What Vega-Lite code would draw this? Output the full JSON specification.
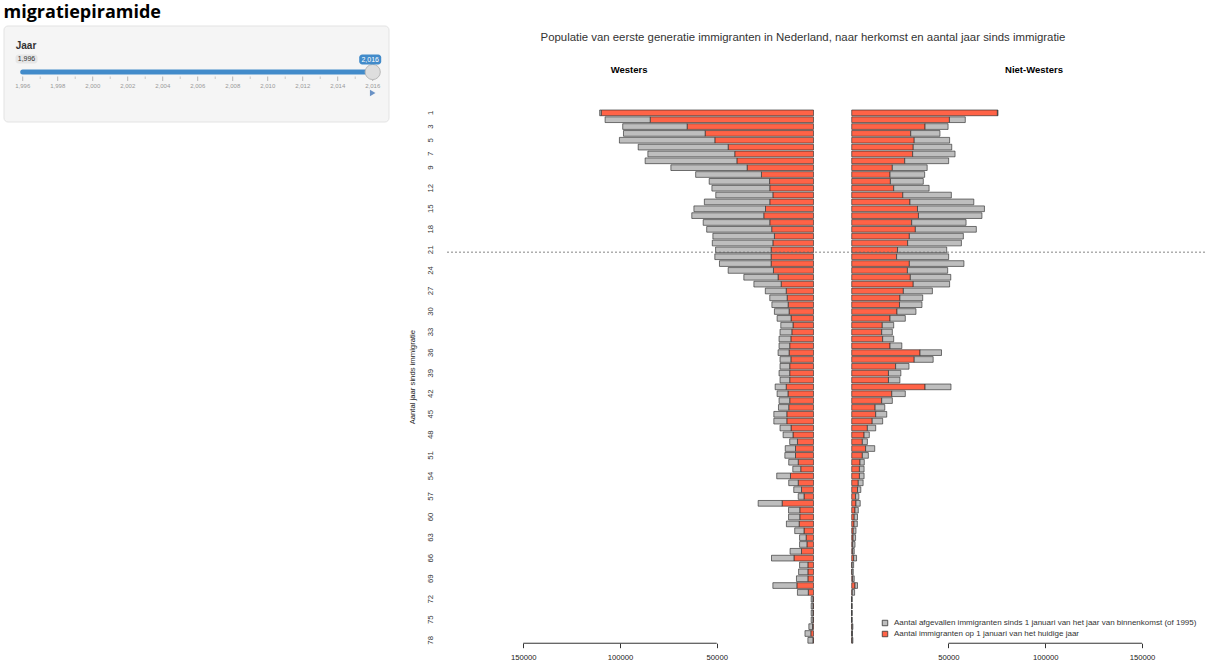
{
  "$schema": "https://vega.github.io/schema/vega-lite/v6.json",
  "background": "white",
  "padding": {"left": 3, "top": 4, "right": 0, "bottom": 0},
  "spacing": 17,
  "resolve": {"scale": {"color": "independent"}, "legend": {"color": "independent"}},
  "config": {
    "font": "Liberation Sans",
    "view": {"stroke": null},
    "axis": {"labelFont": "Liberation Sans", "titleFont": "Liberation Sans"},
    "legend": {"labelFont": "Liberation Sans"}
  },
  "datasets": {
    "pyramide": [
      {"herkomst":"Westers","jaar":1,"huidig":109700,"weg":800},
      {"herkomst":"Westers","jaar":2,"huidig":84400,"weg":23300},
      {"herkomst":"Westers","jaar":3,"huidig":65300,"weg":33300},
      {"herkomst":"Westers","jaar":4,"huidig":56000,"weg":42200},
      {"herkomst":"Westers","jaar":5,"huidig":51000,"weg":49300},
      {"herkomst":"Westers","jaar":6,"huidig":44100,"weg":46500},
      {"herkomst":"Westers","jaar":7,"huidig":40700,"weg":44900},
      {"herkomst":"Westers","jaar":8,"huidig":39600,"weg":47400},
      {"herkomst":"Westers","jaar":9,"huidig":34300,"weg":39400},
      {"herkomst":"Westers","jaar":10,"huidig":26900,"weg":34000},
      {"herkomst":"Westers","jaar":11,"huidig":22700,"weg":31200},
      {"herkomst":"Westers","jaar":12,"huidig":22600,"weg":29900},
      {"herkomst":"Westers","jaar":13,"huidig":21000,"weg":29500},
      {"herkomst":"Westers","jaar":14,"huidig":22600,"weg":33800},
      {"herkomst":"Westers","jaar":15,"huidig":24800,"weg":37000},
      {"herkomst":"Westers","jaar":16,"huidig":25700,"weg":37200},
      {"herkomst":"Westers","jaar":17,"huidig":22600,"weg":34400},
      {"herkomst":"Westers","jaar":18,"huidig":21600,"weg":33600},
      {"herkomst":"Westers","jaar":19,"huidig":20200,"weg":31800},
      {"herkomst":"Westers","jaar":20,"huidig":21000,"weg":31300},
      {"herkomst":"Westers","jaar":21,"huidig":21900,"weg":28700},
      {"herkomst":"Westers","jaar":22,"huidig":21900,"weg":29100},
      {"herkomst":"Westers","jaar":23,"huidig":21900,"weg":26700},
      {"herkomst":"Westers","jaar":24,"huidig":20700,"weg":23400},
      {"herkomst":"Westers","jaar":25,"huidig":18300,"weg":17700},
      {"herkomst":"Westers","jaar":26,"huidig":16700,"weg":14100},
      {"herkomst":"Westers","jaar":27,"huidig":14100,"weg":10800},
      {"herkomst":"Westers","jaar":28,"huidig":13600,"weg":9000},
      {"herkomst":"Westers","jaar":29,"huidig":13100,"weg":8400},
      {"herkomst":"Westers","jaar":30,"huidig":12600,"weg":7600},
      {"herkomst":"Westers","jaar":31,"huidig":11600,"weg":7200},
      {"herkomst":"Westers","jaar":32,"huidig":10600,"weg":6300},
      {"herkomst":"Westers","jaar":33,"huidig":11200,"weg":6100},
      {"herkomst":"Westers","jaar":34,"huidig":11700,"weg":6100},
      {"herkomst":"Westers","jaar":35,"huidig":12300,"weg":5500},
      {"herkomst":"Westers","jaar":36,"huidig":12600,"weg":5700},
      {"herkomst":"Westers","jaar":37,"huidig":11700,"weg":5600},
      {"herkomst":"Westers","jaar":38,"huidig":12300,"weg":5000},
      {"herkomst":"Westers","jaar":39,"huidig":12300,"weg":5500},
      {"herkomst":"Westers","jaar":40,"huidig":12300,"weg":5000},
      {"herkomst":"Westers","jaar":41,"huidig":14100,"weg":5700},
      {"herkomst":"Westers","jaar":42,"huidig":13200,"weg":5600},
      {"herkomst":"Westers","jaar":43,"huidig":12300,"weg":5500},
      {"herkomst":"Westers","jaar":44,"huidig":12800,"weg":5300},
      {"herkomst":"Westers","jaar":45,"huidig":13800,"weg":6700},
      {"herkomst":"Westers","jaar":46,"huidig":13800,"weg":6700},
      {"herkomst":"Westers","jaar":47,"huidig":11600,"weg":5700},
      {"herkomst":"Westers","jaar":48,"huidig":10600,"weg":5100},
      {"herkomst":"Westers","jaar":49,"huidig":8300,"weg":4000},
      {"herkomst":"Westers","jaar":50,"huidig":9300,"weg":5300},
      {"herkomst":"Westers","jaar":51,"huidig":9300,"weg":5500},
      {"herkomst":"Westers","jaar":52,"huidig":7900,"weg":4900},
      {"herkomst":"Westers","jaar":53,"huidig":6600,"weg":4100},
      {"herkomst":"Westers","jaar":54,"huidig":11900,"weg":7100},
      {"herkomst":"Westers","jaar":55,"huidig":7900,"weg":4900},
      {"herkomst":"Westers","jaar":56,"huidig":6200,"weg":4000},
      {"herkomst":"Westers","jaar":57,"huidig":4900,"weg":3000},
      {"herkomst":"Westers","jaar":58,"huidig":16200,"weg":12400},
      {"herkomst":"Westers","jaar":59,"huidig":7100,"weg":5800},
      {"herkomst":"Westers","jaar":60,"huidig":7100,"weg":5800},
      {"herkomst":"Westers","jaar":61,"huidig":7400,"weg":6600},
      {"herkomst":"Westers","jaar":62,"huidig":4900,"weg":4800},
      {"herkomst":"Westers","jaar":63,"huidig":3800,"weg":3400},
      {"herkomst":"Westers","jaar":64,"huidig":3400,"weg":3800},
      {"herkomst":"Westers","jaar":65,"huidig":6200,"weg":5900},
      {"herkomst":"Westers","jaar":66,"huidig":10100,"weg":11600},
      {"herkomst":"Westers","jaar":67,"huidig":2900,"weg":4300},
      {"herkomst":"Westers","jaar":68,"huidig":2900,"weg":4800},
      {"herkomst":"Westers","jaar":69,"huidig":2900,"weg":5900},
      {"herkomst":"Westers","jaar":70,"huidig":8600,"weg":12400},
      {"herkomst":"Westers","jaar":71,"huidig":2700,"weg":5600},
      {"herkomst":"Westers","jaar":72,"huidig":300,"weg":900},
      {"herkomst":"Westers","jaar":73,"huidig":300,"weg":900},
      {"herkomst":"Westers","jaar":74,"huidig":300,"weg":900},
      {"herkomst":"Westers","jaar":75,"huidig":300,"weg":900},
      {"herkomst":"Westers","jaar":76,"huidig":500,"weg":1900},
      {"herkomst":"Westers","jaar":77,"huidig":1400,"weg":3000},
      {"herkomst":"Westers","jaar":78,"huidig":300,"weg":2600},
      {"herkomst":"Niet-Westers","jaar":1,"huidig":75300,"weg":300},
      {"herkomst":"Niet-Westers","jaar":2,"huidig":50500,"weg":8200},
      {"herkomst":"Niet-Westers","jaar":3,"huidig":37900,"weg":11900},
      {"herkomst":"Niet-Westers","jaar":4,"huidig":30500,"weg":15100},
      {"herkomst":"Niet-Westers","jaar":5,"huidig":32300,"weg":18300},
      {"herkomst":"Niet-Westers","jaar":6,"huidig":31800,"weg":19900},
      {"herkomst":"Niet-Westers","jaar":7,"huidig":31500,"weg":21900},
      {"herkomst":"Niet-Westers","jaar":8,"huidig":27400,"weg":22700},
      {"herkomst":"Niet-Westers","jaar":9,"huidig":21000,"weg":18000},
      {"herkomst":"Niet-Westers","jaar":10,"huidig":19800,"weg":17900},
      {"herkomst":"Niet-Westers","jaar":11,"huidig":20000,"weg":17000},
      {"herkomst":"Niet-Westers","jaar":12,"huidig":21700,"weg":18300},
      {"herkomst":"Niet-Westers","jaar":13,"huidig":26400,"weg":25100},
      {"herkomst":"Niet-Westers","jaar":14,"huidig":30100,"weg":33000},
      {"herkomst":"Niet-Westers","jaar":15,"huidig":34000,"weg":34600},
      {"herkomst":"Niet-Westers","jaar":16,"huidig":34500,"weg":32800},
      {"herkomst":"Niet-Westers","jaar":17,"huidig":31000,"weg":28100},
      {"herkomst":"Niet-Westers","jaar":18,"huidig":32900,"weg":31500},
      {"herkomst":"Niet-Westers","jaar":19,"huidig":29800,"weg":27900},
      {"herkomst":"Niet-Westers","jaar":20,"huidig":28900,"weg":27800},
      {"herkomst":"Niet-Westers","jaar":21,"huidig":23700,"weg":25400},
      {"herkomst":"Niet-Westers","jaar":22,"huidig":23200,"weg":26900},
      {"herkomst":"Niet-Westers","jaar":23,"huidig":29800,"weg":28200},
      {"herkomst":"Niet-Westers","jaar":24,"huidig":28800,"weg":20800},
      {"herkomst":"Niet-Westers","jaar":25,"huidig":30300,"weg":20900},
      {"herkomst":"Niet-Westers","jaar":26,"huidig":31800,"weg":18800},
      {"herkomst":"Niet-Westers","jaar":27,"huidig":26700,"weg":15000},
      {"herkomst":"Niet-Westers","jaar":28,"huidig":24900,"weg":11800},
      {"herkomst":"Niet-Westers","jaar":29,"huidig":24700,"weg":11600},
      {"herkomst":"Niet-Westers","jaar":30,"huidig":23400,"weg":9800},
      {"herkomst":"Niet-Westers","jaar":31,"huidig":19800,"weg":7900},
      {"herkomst":"Niet-Westers","jaar":32,"huidig":15800,"weg":5900},
      {"herkomst":"Niet-Westers","jaar":33,"huidig":15500,"weg":5500},
      {"herkomst":"Niet-Westers","jaar":34,"huidig":16000,"weg":5700},
      {"herkomst":"Niet-Westers","jaar":35,"huidig":19800,"weg":6100},
      {"herkomst":"Niet-Westers","jaar":36,"huidig":35300,"weg":11100},
      {"herkomst":"Niet-Westers","jaar":37,"huidig":32300,"weg":9800},
      {"herkomst":"Niet-Westers","jaar":38,"huidig":22700,"weg":6900},
      {"herkomst":"Niet-Westers","jaar":39,"huidig":19000,"weg":6400},
      {"herkomst":"Niet-Westers","jaar":40,"huidig":19000,"weg":5900},
      {"herkomst":"Niet-Westers","jaar":41,"huidig":37900,"weg":13400},
      {"herkomst":"Niet-Westers","jaar":42,"huidig":20700,"weg":7000},
      {"herkomst":"Niet-Westers","jaar":43,"huidig":15500,"weg":5500},
      {"herkomst":"Niet-Westers","jaar":44,"huidig":12100,"weg":5000},
      {"herkomst":"Niet-Westers","jaar":45,"huidig":12400,"weg":5700},
      {"herkomst":"Niet-Westers","jaar":46,"huidig":10600,"weg":5400},
      {"herkomst":"Niet-Westers","jaar":47,"huidig":8100,"weg":4300},
      {"herkomst":"Niet-Westers","jaar":48,"huidig":6400,"weg":2700},
      {"herkomst":"Niet-Westers","jaar":49,"huidig":5500,"weg":2600},
      {"herkomst":"Niet-Westers","jaar":50,"huidig":7200,"weg":4700},
      {"herkomst":"Niet-Westers","jaar":51,"huidig":5500,"weg":3100},
      {"herkomst":"Niet-Westers","jaar":52,"huidig":4300,"weg":2200},
      {"herkomst":"Niet-Westers","jaar":53,"huidig":4000,"weg":2400},
      {"herkomst":"Niet-Westers","jaar":54,"huidig":4000,"weg":2400},
      {"herkomst":"Niet-Westers","jaar":55,"huidig":3400,"weg":2500},
      {"herkomst":"Niet-Westers","jaar":56,"huidig":3000,"weg":1700},
      {"herkomst":"Niet-Westers","jaar":57,"huidig":2000,"weg":1700},
      {"herkomst":"Niet-Westers","jaar":58,"huidig":2200,"weg":2200},
      {"herkomst":"Niet-Westers","jaar":59,"huidig":1700,"weg":1700},
      {"herkomst":"Niet-Westers","jaar":60,"huidig":1300,"weg":1700},
      {"herkomst":"Niet-Westers","jaar":61,"huidig":1200,"weg":1700},
      {"herkomst":"Niet-Westers","jaar":62,"huidig":800,"weg":1400},
      {"herkomst":"Niet-Westers","jaar":63,"huidig":700,"weg":1300},
      {"herkomst":"Niet-Westers","jaar":64,"huidig":500,"weg":1200},
      {"herkomst":"Niet-Westers","jaar":65,"huidig":500,"weg":800},
      {"herkomst":"Niet-Westers","jaar":66,"huidig":1000,"weg":1500},
      {"herkomst":"Niet-Westers","jaar":67,"huidig":200,"weg":800},
      {"herkomst":"Niet-Westers","jaar":68,"huidig":200,"weg":600},
      {"herkomst":"Niet-Westers","jaar":69,"huidig":500,"weg":800},
      {"herkomst":"Niet-Westers","jaar":70,"huidig":1700,"weg":1300},
      {"herkomst":"Niet-Westers","jaar":71,"huidig":300,"weg":1200},
      {"herkomst":"Niet-Westers","jaar":72,"huidig":50,"weg":100},
      {"herkomst":"Niet-Westers","jaar":73,"huidig":50,"weg":100},
      {"herkomst":"Niet-Westers","jaar":74,"huidig":50,"weg":100},
      {"herkomst":"Niet-Westers","jaar":75,"huidig":50,"weg":100},
      {"herkomst":"Niet-Westers","jaar":76,"huidig":200,"weg":400},
      {"herkomst":"Niet-Westers","jaar":77,"huidig":100,"weg":300},
      {"herkomst":"Niet-Westers","jaar":78,"huidig":200,"weg":400}
    ]
  },
  "hconcat": [
    {
      "width": 385,
      "height": 12,
      "title": {"text": "migratiepiramide", "anchor": "start", "font": "Open Sans", "fontSize": 18, "fontWeight": "bold", "color": "#000000", "offset": 3.5},
      "data": {"values": [{"van": 1996, "tot": 2016, "jaar": 2016}]},
      "layer": [
        {
          "mark": {"type": "rect", "fill": "#f5f5f5", "stroke": "#e3e3e3", "strokeWidth": 1, "cornerRadius": 4},
          "encoding": {
            "x": {"datum": 1994.931, "type": "quantitative", "scale": {"domain": [1994.931, 2016.931], "nice": false, "zero": false}, "axis": null},
            "x2": {"datum": 2016.931},
            "y": {"datum": 0, "type": "quantitative", "scale": {"domain": [84, 96], "reverse": true, "nice": false, "zero": false}, "axis": null},
            "y2": {"datum": 96}
          }
        },
        {
          "mark": {"type": "rule", "color": "#428bca", "strokeWidth": 5, "strokeCap": "round"},
          "encoding": {
            "x": {"field": "van", "type": "quantitative"},
            "x2": {"field": "jaar"},
            "y": {"datum": 46, "type": "quantitative"}
          }
        },
        {
          "data": {"values": [{"jaar": 1996}, {"jaar": 1998}, {"jaar": 2000}, {"jaar": 2002}, {"jaar": 2004}, {"jaar": 2006}, {"jaar": 2008}, {"jaar": 2010}, {"jaar": 2012}, {"jaar": 2014}, {"jaar": 2016}]},
          "mark": {"type": "rule", "color": "#b5b5b5", "strokeWidth": 1},
          "encoding": {
            "x": {"field": "jaar", "type": "quantitative"},
            "y": {"datum": 50.5, "type": "quantitative"},
            "y2": {"datum": 55}
          }
        },
        {
          "data": {"values": [{"jaar": 1997}, {"jaar": 1999}, {"jaar": 2001}, {"jaar": 2003}, {"jaar": 2005}, {"jaar": 2007}, {"jaar": 2009}, {"jaar": 2011}, {"jaar": 2013}, {"jaar": 2015}]},
          "mark": {"type": "rule", "color": "#c8c8c8", "strokeWidth": 1},
          "encoding": {
            "x": {"field": "jaar", "type": "quantitative"},
            "y": {"datum": 50.5, "type": "quantitative"},
            "y2": {"datum": 53}
          }
        },
        {
          "data": {"values": [{"jaar": 1996}, {"jaar": 1998}, {"jaar": 2000}, {"jaar": 2002}, {"jaar": 2004}, {"jaar": 2006}, {"jaar": 2008}, {"jaar": 2010}, {"jaar": 2012}, {"jaar": 2014}, {"jaar": 2016}]},
          "mark": {"type": "text", "fontSize": 6, "color": "#999999", "baseline": "middle"},
          "encoding": {
            "x": {"field": "jaar", "type": "quantitative"},
            "y": {"datum": 59.5, "type": "quantitative"},
            "text": {"field": "jaar", "type": "quantitative", "format": ","}
          }
        },
        {
          "mark": {"type": "point", "shape": "circle", "size": 230, "filled": true, "fill": "#dedede", "stroke": "#b8b8b8", "strokeWidth": 1, "opacity": 1},
          "encoding": {
            "x": {"field": "jaar", "type": "quantitative"},
            "y": {"datum": 46, "type": "quantitative"}
          }
        },
        {
          "mark": {"type": "rect", "width": 22, "height": 9, "fill": "#e6e6e6", "cornerRadius": 3, "xOffset": 3.8},
          "encoding": {
            "x": {"field": "van", "type": "quantitative"},
            "y": {"datum": 33, "type": "quantitative"}
          }
        },
        {
          "mark": {"type": "text", "fontSize": 7, "color": "#333333", "xOffset": 3.8, "baseline": "middle"},
          "encoding": {
            "x": {"field": "van", "type": "quantitative"},
            "y": {"datum": 33, "type": "quantitative"},
            "text": {"field": "van", "type": "quantitative", "format": ","}
          }
        },
        {
          "mark": {"type": "rect", "width": 22, "height": 10, "fill": "#428bca", "cornerRadius": 3, "xOffset": -2.5},
          "encoding": {
            "x": {"field": "jaar", "type": "quantitative"},
            "y": {"datum": 33.5, "type": "quantitative"}
          }
        },
        {
          "mark": {"type": "text", "fontSize": 7, "color": "#ffffff", "xOffset": -2.5, "baseline": "middle"},
          "encoding": {
            "x": {"field": "jaar", "type": "quantitative"},
            "y": {"datum": 33.5, "type": "quantitative"},
            "text": {"field": "jaar", "type": "quantitative", "format": ","}
          }
        },
        {
          "mark": {"type": "point", "shape": "triangle-right", "size": 40, "filled": true, "fill": "#5b87c0", "opacity": 0.9},
          "encoding": {
            "x": {"field": "jaar", "type": "quantitative"},
            "y": {"datum": 67, "type": "quantitative"}
          }
        },
        {
          "mark": {"type": "text", "text": "Jaar", "fontSize": 10, "fontWeight": "bold", "color": "#333333", "align": "left", "baseline": "middle", "xOffset": -7},
          "encoding": {
            "x": {"datum": 1996, "type": "quantitative"},
            "y": {"datum": 19.5, "type": "quantitative"}
          }
        }
      ]
    },
    {
      "width": 760,
      "height": 533.2,
      "view": {"stroke": null},
      "title": {"text": "Populatie van eerste generatie immigranten in Nederland, naar herkomst en aantal jaar sinds immigratie", "anchor": "middle", "fontSize": 11.4, "fontWeight": "normal", "color": "#333333", "offset": 21, "dx": -22},
      "layer": [
        {
          "layer": [
            {
              "data": {"name": "pyramide"},
              "transform": [
                {"filter": "datum.herkomst === 'Westers'"},
                {"fold": ["huidig", "weg"], "as": ["soort", "aantal"]}
              ],
              "mark": {"type": "bar", "stroke": "#2b2b2b", "strokeWidth": 0.8, "strokeOpacity": 0.8},
              "encoding": {
                "y": {
                  "field": "jaar", "type": "ordinal",
                  "scale": {"domain": [1,2,3,4,5,6,7,8,9,10,11,12,13,14,15,16,17,18,19,20,21,22,23,24,25,26,27,28,29,30,31,32,33,34,35,36,37,38,39,40,41,42,43,44,45,46,47,48,49,50,51,52,53,54,55,56,57,58,59,60,61,62,63,64,65,66,67,68,69,70,71,72,73,74,75,76,77,78], "paddingInner": 0.167, "paddingOuter": 0, "round": false},
                  "axis": {"title": "Aantal jaar sinds immigratie", "values": [1,3,5,7,9,12,15,18,21,24,27,30,33,36,39,42,45,48,51,54,57,60,63,66,69,72,75,78], "labelAngle": -90, "labelAlign": "center", "labelBaseline": "bottom", "ticks": false, "domain": false, "grid": false, "labelPadding": 10.5, "labelFontSize": 7.7, "labelColor": "#333333", "labelOverlap": false, "titleFontSize": 7.7, "titleFontWeight": "normal", "titleColor": "#222222", "titlePadding": 10.5}
                },
                "x": {
                  "field": "aantal", "type": "quantitative", "stack": "zero",
                  "scale": {"domain": [-202330, 190440], "reverse": true, "nice": false, "zero": false},
                  "axis": {"orient": "bottom", "values": [50000, 100000, 150000], "format": "d", "domain": false, "grid": false, "tickSize": 4.5, "tickColor": "#333333", "tickWidth": 1, "labelFontSize": 7.7, "labelColor": "#222222", "labelPadding": 5.5, "labelFlush": false, "title": null}
                },
                "color": {
                  "field": "soort", "type": "nominal",
                  "scale": {"domain": ["weg", "huidig"], "range": ["#bebebe", "#ff6347"]},
                  "legend": {"orient": "none", "legendX": 436, "legendY": 509, "title": null, "symbolType": "square", "symbolSize": 30, "symbolStrokeColor": "#333333", "symbolStrokeWidth": 0.8, "labelFontSize": 8, "labelColor": "#333333", "labelLimit": 500, "labelOffset": 5, "rowPadding": 1,
                    "labelExpr": "datum.value === 'weg' ? 'Aantal afgevallen immigranten sinds 1 januari van het jaar van binnenkomst (of 1995)' : 'Aantal immigranten op 1 januari van het huidige jaar'"}
                },
                "order": {"field": "soort", "sort": "ascending"}
              }
            },
            {
              "data": {"values": [{}]},
              "mark": {"type": "rule", "color": "#333333", "strokeWidth": 1, "yOffset": 2.9},
              "encoding": {
                "x": {"datum": 50000, "type": "quantitative", "axis": null},
                "x2": {"datum": 150000},
                "y": {"datum": 78, "type": "ordinal", "axis": null}
              }
            },
            {
              "data": {"values": [{}]},
              "mark": {"type": "text", "text": "Westers", "fontSize": 9.5, "fontWeight": "bold", "color": "#000000", "dy": -43},
              "encoding": {
                "x": {"datum": 95300, "type": "quantitative", "axis": null},
                "y": {"datum": 1, "type": "ordinal", "axis": null}
              }
            }
          ],
          "resolve": {"axis": {"x": "independent", "y": "independent"}}
        },
        {
          "layer": [
            {
              "data": {"name": "pyramide"},
              "transform": [
                {"filter": "datum.herkomst === 'Niet-Westers'"},
                {"fold": ["huidig", "weg"], "as": ["soort", "aantal"]}
              ],
              "mark": {"type": "bar", "stroke": "#2b2b2b", "strokeWidth": 0.8, "strokeOpacity": 0.8},
              "encoding": {
                "y": {"field": "jaar", "type": "ordinal", "axis": null},
                "x": {
                  "field": "aantal", "type": "quantitative", "stack": "zero",
                  "scale": {"domain": [-210180, 182580], "nice": false, "zero": false},
                  "axis": {"orient": "bottom", "values": [50000, 100000, 150000], "format": "d", "domain": false, "grid": false, "tickSize": 4.5, "tickColor": "#333333", "tickWidth": 1, "labelFontSize": 7.7, "labelColor": "#222222", "labelPadding": 5.5, "labelFlush": false, "title": null}
                },
                "color": {"field": "soort", "type": "nominal", "legend": null},
                "order": {"field": "soort", "sort": "ascending"}
              }
            },
            {
              "data": {"values": [{}]},
              "mark": {"type": "rule", "color": "#333333", "strokeWidth": 1, "yOffset": 2.9},
              "encoding": {
                "x": {"datum": 50000, "type": "quantitative", "axis": null},
                "x2": {"datum": 150000},
                "y": {"datum": 78, "type": "ordinal", "axis": null}
              }
            },
            {
              "data": {"values": [{}]},
              "mark": {"type": "text", "text": "Niet-Westers", "fontSize": 9.5, "fontWeight": "bold", "color": "#000000", "dy": -43},
              "encoding": {
                "x": {"datum": 94200, "type": "quantitative", "axis": null},
                "y": {"datum": 1, "type": "ordinal", "axis": null}
              }
            }
          ],
          "resolve": {"axis": {"x": "independent", "y": "independent"}}
        },
        {
          "data": {"values": [{}]},
          "mark": {"type": "rule", "color": "#666666", "strokeWidth": 0.8, "strokeDash": [2, 2], "yOffset": 2.3},
          "encoding": {
            "y": {"datum": 21, "type": "ordinal", "axis": null}
          }
        }
      ],
      "resolve": {"scale": {"x": "independent"}, "axis": {"x": "independent", "y": "independent"}}
    }
  ]
}
